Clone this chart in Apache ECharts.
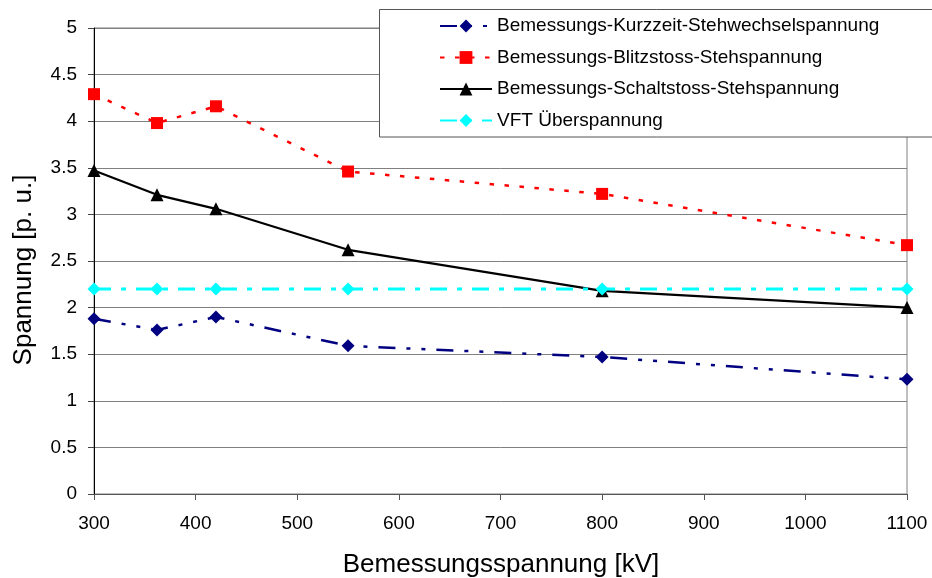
<!DOCTYPE html>
<html>
<head>
<meta charset="utf-8">
<script src="https://cdn.jsdelivr.net/npm/echarts@6/dist/echarts.min.js"></script>
<style>
html,body{margin:0;padding:0;background:#fff;}
#c{width:932px;height:578px;}
</style>
</head>
<body>
<div id="c"></div>
<script>
const voltages = [300, 362, 420, 550, 800, 1100];
const kurzzeit = [1.88, 1.76, 1.90, 1.59, 1.47, 1.23];
const blitz = [4.29, 3.98, 4.16, 3.46, 3.22, 2.67];
const schalt = [3.47, 3.21, 3.06, 2.62, 2.18, 2.00];
const vft = [2.2, 2.2, 2.2, 2.2, 2.2, 2.2];
const seriesNames = [
  'Bemessungs-Kurzzeit-Stehwechselspannung',
  'Bemessungs-Blitzstoss-Stehspannung',
  'Bemessungs-Schaltstoss-Stehspannung',
  'VFT Überspannung'
];
const xTitle = 'Bemessungsspannung [kV]';
const yTitle = 'Spannung [p. u.]';

const pairs = vals => voltages.map((v, i) => [v, vals[i]]);
const FONT = '"Liberation Sans", Arial, sans-serif';

const chart = echarts.init(document.getElementById('c'), null, {renderer: 'canvas'});
chart.setOption({
  animation: false,
  backgroundColor: '#fff',
  textStyle: {fontFamily: FONT},
  grid: {left: 94, right: 25, top: 28, bottom: 84, show: true, borderColor: '#808080', borderWidth: 1, backgroundColor: 'transparent'},
  xAxis: {
    type: 'value', min: 300, max: 1100, interval: 100,
    axisLine: {show: true, lineStyle: {color: '#555', width: 1}},
    axisTick: {show: true, length: 6, lineStyle: {color: '#555'}},
    axisLabel: {fontSize: 19, color: '#000', margin: 20, fontFamily: FONT, formatter: v => String(v)},
    splitLine: {show: false}
  },
  yAxis: {
    type: 'value', min: 0, max: 5, interval: 0.5,
    axisLine: {show: true, lineStyle: {color: '#000', width: 1}},
    axisTick: {show: true, length: 6, lineStyle: {color: '#444'}},
    axisLabel: {fontSize: 19, color: '#000', margin: 17, fontFamily: FONT, formatter: v => String(v)},
    splitLine: {show: true, lineStyle: {color: '#808080', width: 1}}
  },
  legend: {
    orient: 'vertical', left: 439, top: 16, padding: 0,
    itemWidth: 52, itemHeight: 16, itemGap: 11.5,
    textStyle: {fontSize: 19, lineHeight: 20, color: '#000', fontFamily: FONT},
    data: seriesNames, z: 10
  },
  graphic: [
    {type: 'rect', z: 5, shape: {x: 379.5, y: 9.5, width: 600, height: 127.5},
     style: {fill: '#fff', stroke: '#555', lineWidth: 1}},
    {type: 'text', x: 24, y: 270, rotation: Math.PI / 2,
     style: {text: yTitle, font: '26px ' + FONT, fill: '#000', textAlign: 'center', textVerticalAlign: 'middle'}},
    {type: 'text', x: 501, y: 565,
     style: {text: xTitle, font: '26px ' + FONT, fill: '#000', textAlign: 'center', textVerticalAlign: 'middle'}}
  ],
  series: [
    {name: seriesNames[0], type: 'line', data: pairs(kurzzeit), symbol: 'diamond', symbolSize: 13,
     itemStyle: {color: '#000080'}, lineStyle: {color: '#000080', width: 2.5, type: [17, 11, 4, 11, 4, 11]}},
    {name: seriesNames[1], type: 'line', data: pairs(blitz), symbol: 'rect', symbolSize: 12,
     itemStyle: {color: '#ff0000'}, lineStyle: {color: '#ff0000', width: 2.5, type: [4.5, 10.5]}},
    {name: seriesNames[2], type: 'line', data: pairs(schalt), symbol: 'triangle', symbolSize: 13,
     itemStyle: {color: '#000000'}, lineStyle: {color: '#000000', width: 2.2, type: 'solid'}},
    {name: seriesNames[3], type: 'line', data: pairs(vft), symbol: 'diamond', symbolSize: 13,
     itemStyle: {color: '#00ffff'}, lineStyle: {color: '#00ffff', width: 3, type: [17, 10, 5, 10]}}
  ]
});
</script>
</body>
</html>
